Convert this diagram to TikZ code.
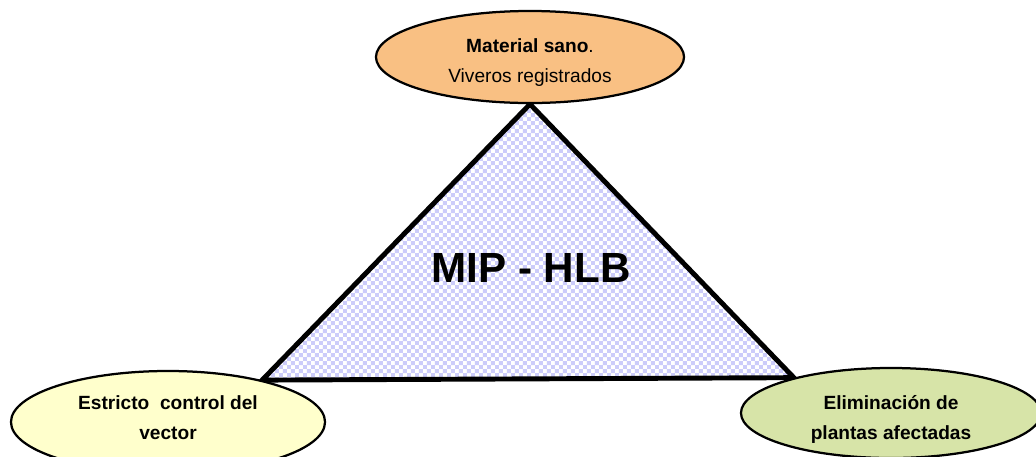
\documentclass[tikz,border=0pt]{standalone}
\usepackage{fontspec}
\setmainfont{Liberation Sans}
\usepackage{tikz}
\usetikzlibrary{shapes.geometric}
\usetikzlibrary{positioning}
\usetikzlibrary{patterns}
\usetikzlibrary{backgrounds}
\definecolor{sanoorange}{RGB}{249,192,131}
\definecolor{vectoryellow}{RGB}{255,255,204}
\definecolor{plantgreen}{RGB}{215,228,168}
\definecolor{checkblue}{RGB}{204,204,250}
\pgfdeclarepatternformonly{checkers}{\pgfpointorigin}{\pgfqpoint{5.6693pt}{5.6693pt}}{\pgfqpoint{5.6693pt}{5.6693pt}}{
    \pgfpathrectangle{\pgfpointorigin}{\pgfqpoint{2.8346pt}{2.8346pt}}
    \pgfpathrectangle{\pgfqpoint{2.8346pt}{2.8346pt}}{\pgfqpoint{2.8346pt}{2.8346pt}}
    \pgfusepath{fill}}
\tikzstyle{pillar} = [ellipse, draw=black, line width=1.6pt, inner sep=0pt, text centered, text depth=0pt, font=\fontsize{13.6}{21.5}\selectfont]
\tikzstyle{triangle} = [draw=black, line width=3.5pt, line join=miter, preaction={fill=white}, pattern=checkers, pattern color=checkblue]
\tikzstyle{title} = [font=\fontsize{30}{36}\selectfont\bfseries]

\begin{document}
\begin{tikzpicture}[x=0.025cm, y=-0.025cm]
        \useasboundingbox (0,0) rectangle (1036,456);
        \clip (0,0) rectangle (1036,456);
        \node (sano) [pillar, fill=sanoorange, minimum width=7.7cm, minimum height=2.3cm, text height=36.8pt, align=center] at (530,57) {\textbf{Material sano}.\\ Viveros registrados};
        \node (vector) [pillar, fill=vectoryellow, minimum width=7.85cm, minimum height=2.55cm, text height=25.5pt, align=center] at (168,422) {\textbf{Estricto \ control del}\\ \textbf{vector}};
        \node (plantas) [pillar, fill=plantgreen, minimum width=7.5cm, minimum height=2.25cm, text height=38.3pt, align=center] at (891,413) {\textbf{Eliminación de}\\ \textbf{plantas afectadas}};
        \node (mip) [title] at (531,268) {MIP - HLB};

        \begin{scope}[on background layer]
            \draw [triangle] (sano.south) -- (vector.24) -- (plantas.160) -- cycle;
        \end{scope}
    \end{tikzpicture}
\end{document}
